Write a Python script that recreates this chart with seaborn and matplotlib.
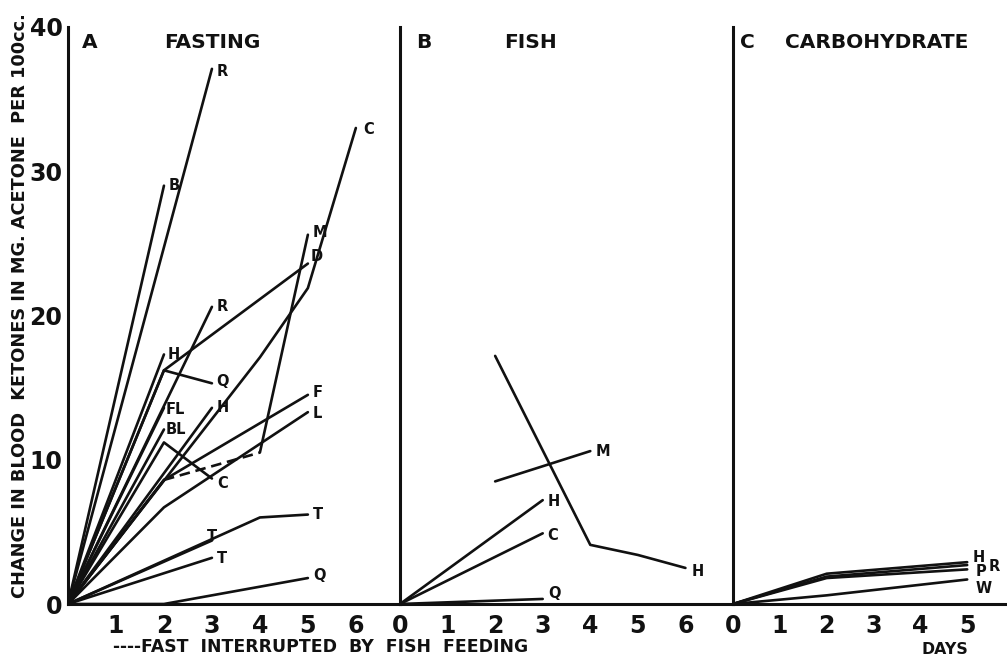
import matplotlib
matplotlib.use("Agg")
import matplotlib.pyplot as plt
import seaborn as sns
import pandas as pd

# ---------------- data ----------------
# Panel A : fasting
fasting_labels = ["R", "B", "C", "M", "D", "Q", "H", "R", "FL", "BL", "C", "H",
                  "F", "L", "T", "T", "T", "Q"]
fasting_days = [[0, 3], [0, 2], [0, 4, 5, 6], [0, 2, 4, 5], [0, 2, 5], [0, 2, 3],
                [0, 2], [0, 3], [0, 2], [0, 2], [0, 2, 3], [0, 3],
                [0, 2, 5], [0, 2, 5], [0, 4, 5], [0, 3], [0, 3], [0, 2, 5]]
fasting_values = [[0, 37.1], [0, 29.0], [0, 17.1, 21.9, 33.0], [0, 8.6, 10.5, 25.6],
                  [0, 16.2, 23.6], [0, 16.2, 15.3], [0, 17.3], [0, 20.6],
                  [0, 13.6], [0, 12.1], [0, 11.2, 8.7], [0, 13.6],
                  [0, 8.6, 14.5], [0, 6.7, 13.3], [0, 6.0, 6.2], [0, 4.4],
                  [0, 3.2], [0, 0, 1.8]]
# series "M": fast interrupted by fish feeding between day 2 and day 4
interrupted_series = 3
interrupted_days = [2, 4]

# Panel B : fish
fish_labels = ["H", "M", "H", "C", "Q"]
fish_days = [[2, 4, 5, 6], [2, 4], [0, 3], [0, 3], [0, 3]]
fish_values = [[17.2, 4.1, 3.4, 2.5], [8.5, 10.6], [0, 7.2], [0, 4.9], [0, 0.35]]

# Panel C : carbohydrate
carb_labels = ["H", "R", "P", "W"]
carb_days = [[0, 2, 5], [0, 2, 5], [0, 2, 5], [0, 2, 5]]
carb_values = [[0, 2.1, 2.9], [0, 1.9, 2.7], [0, 1.8, 2.4], [0, 0.6, 1.7]]

panel_letters = ["A", "B", "C"]
panel_titles = ["FASTING", "FISH", "CARBOHYDRATE"]
y_ticks = [0, 10, 20, 30, 40]
a_xticks = [1, 2, 3, 4, 5, 6]
b_xticks = [0, 1, 2, 3, 4, 5, 6]
c_xticks = [0, 1, 2, 3, 4, 5]
y_label = "CHANGE IN BLOOD  KETONES IN MG. ACETONE  PER 100cc."
footnote = "----FAST  INTERRUPTED  BY  FISH  FEEDING"
x_label = "DAYS"

# ---------------- style ----------------
sns.set_style("white")
plt.rcParams["font.family"] = ["DejaVu Sans"]
INK = "#111111"
LW = 1.9

# label offsets in pixels (dx, dy) from last point of each series
fasting_off = [(5, -3), (5, 0), (7, -2), (5, 2), (3, 7), (4, 2), (4, 0), (5, 0),
               (2, -2), (2, 0), (5, -5), (5, 0), (5, 2), (5, -1), (5, 0),
               (-5, 4), (5, -1), (5, 3)]
fish_off = [(6, -4), (5, 0), (5, -1), (5, -2), (6, 5)]
carb_off = [(5, 5), (21, -1), (8, -2), (8, -9)]

W, H = 1007, 658
fig = plt.figure(figsize=(W / 100, H / 100), dpi=100)
y0, ytop = 604, 27
bottom = (H - y0) / H
height = (y0 - ytop) / H
axA = fig.add_axes([68 / W, bottom, 332 / W, height])
axB = fig.add_axes([400 / W, bottom, 333 / W, height])
axC = fig.add_axes([733 / W, bottom, 274 / W, height])
xlims = [(0, 6.92), (0, 7.0), (0, 5.85)]


def draw(ax, days, vals, style="-"):
    df = pd.DataFrame({"day": days, "val": vals})
    sns.lineplot(data=df, x="day", y="val", ax=ax, color=INK, lw=LW,
                 sort=False, estimator=None, linestyle=style,
                 solid_capstyle="round", legend=False)


def panel(ax, labels, days, values, offs, dashed=None):
    for i, (lab, d, v) in enumerate(zip(labels, days, values)):
        if dashed is not None and i == dashed[0]:
            k0 = d.index(dashed[1][0])
            k1 = d.index(dashed[1][1])
            draw(ax, d[:k0 + 1], v[:k0 + 1])
            draw(ax, d[k0:k1 + 1], v[k0:k1 + 1], style=(0, (4, 2.2)))
            draw(ax, d[k1:], v[k1:])
        else:
            draw(ax, d, v)
        dx, dy = offs[i]
        ax.annotate(lab, (d[-1], v[-1]), xytext=(dx, dy), textcoords="offset pixels",
                    ha="left", va="center", fontsize=10.5, fontweight="bold",
                    color=INK, annotation_clip=False)


panel(axA, fasting_labels, fasting_days, fasting_values, fasting_off,
      dashed=(interrupted_series, interrupted_days))
panel(axB, fish_labels, fish_days, fish_values, fish_off)
panel(axC, carb_labels, carb_days, carb_values, carb_off)

for ax, xl, xt in zip([axA, axB, axC], xlims, [a_xticks, b_xticks, c_xticks]):
    ax.set_xlim(*xl)
    ax.set_ylim(0, 40)
    ax.set_xticks(xt)
    ax.set_xticklabels([str(t) for t in xt], fontsize=17, fontweight="bold", color=INK)
    ax.tick_params(axis="x", length=0, pad=7)
    ax.set_xlabel("")
    ax.set_ylabel("")
    for s in ["top", "right"]:
        ax.spines[s].set_visible(False)
    for s in ["left", "bottom"]:
        ax.spines[s].set_color(INK)
        ax.spines[s].set_linewidth(2.2)
    ax.set_facecolor("none")
    ax.grid(False)

axA.set_yticks(y_ticks)
axA.set_yticklabels([str(t) for t in y_ticks], fontsize=17, fontweight="bold", color=INK)
axA.tick_params(axis="y", length=0, pad=4)
for ax in [axB, axC]:
    ax.set_yticks([])

# titles
title_pos = [((90, 42), (212, 42)), ((424, 42), (530, 42)), ((747, 42), (877, 42))]
for letter, title, (lp, tp) in zip(panel_letters, panel_titles, title_pos):
    fig.text(lp[0] / W, 1 - lp[1] / H, letter, ha="center", va="center",
             fontsize=14.5, fontweight="bold", color=INK)
    fig.text(tp[0] / W, 1 - tp[1] / H, title, ha="center", va="center",
             fontsize=14.5, fontweight="bold", color=INK)

fig.text(20 / W, 1 - 306 / H, y_label, rotation=90, ha="center", va="center",
         fontsize=12.8, fontweight="bold", color=INK)
fig.text(113 / W, 1 - 647 / H, footnote, ha="left", va="center",
         fontsize=12.4, fontweight="bold", color=INK)
fig.text(945 / W, 1 - 650 / H, x_label, ha="center", va="center",
         fontsize=11.3, fontweight="bold", color=INK)

fig.savefig("out.png", dpi=100, facecolor="white")
